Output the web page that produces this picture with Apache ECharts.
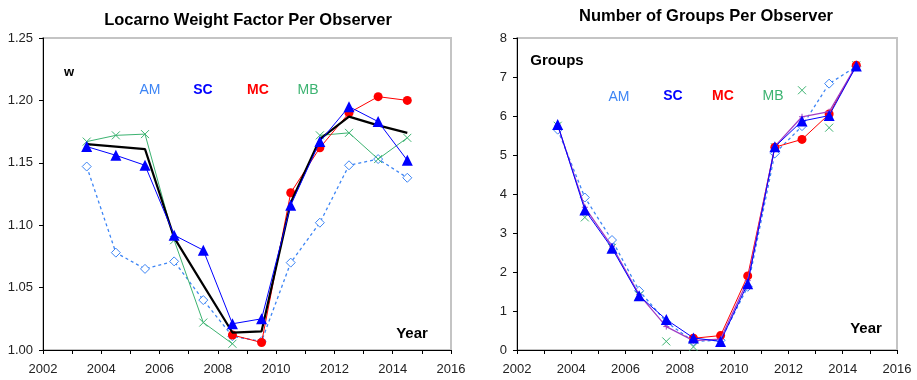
<!DOCTYPE html>
<html><head><meta charset="utf-8">
<script src="https://cdn.jsdelivr.net/npm/echarts@6/dist/echarts.min.js"></script>
<style>html,body{margin:0;padding:0;background:#fff}#c{width:917px;height:380px}</style>
</head><body><div id="c"></div>
<script>
// ---- data ----
const years = [2003.5, 2004.5, 2005.5, 2006.5, 2007.5, 2008.5, 2009.5, 2010.5, 2011.5, 2012.5, 2013.5, 2014.5];
// Left: Locarno weight factor
const wAM   = [1.147, 1.078, 1.065, 1.071, 1.040, 1.011, 1.007, 1.070, 1.102, 1.148, 1.153, 1.138];
const wSC   = [1.163, 1.156, 1.148, 1.092, 1.080, 1.021, 1.025, 1.116, 1.167, 1.195, 1.183, 1.152];
const wMC   = [null, null, null, null, null, 1.012, 1.006, 1.126, 1.162, 1.190, 1.203, 1.200];
const wMB   = [1.167, 1.172, 1.173, 1.088, 1.022, 1.005, null, null, 1.172, 1.174, 1.153, 1.170];
const wMean = [1.165, 1.163, 1.161, 1.090, 1.052, 1.014, 1.015, 1.118, 1.169, 1.187, 1.180, 1.174];
// Right: number of groups
const gAM   = [5.65, 3.91, 2.82, 1.52, 0.72, 0.22, 0.25, 1.62, 5.04, 5.74, 6.83, 7.27];
const gSC   = [5.78, 3.59, 2.61, 1.39, 0.78, 0.31, 0.22, 1.70, 5.21, 5.87, 6.01, 7.28];
const gMC   = [null, null, null, null, null, 0.30, 0.37, 1.90, 5.20, 5.40, 6.05, 7.30];
const gMB   = [5.75, 3.40, 2.62, 1.40, 0.22, 0.08, null, null, 5.20, 6.66, 5.70, 7.30];
const gMean = [5.76, 3.66, 2.66, 1.42, 0.60, 0.24, 0.28, 1.78, 5.22, 5.98, 6.11, 7.30];
// ticks
const xTicks = {min: 2002, max: 2016, interval: 2};
const wTicks = {min: 1.00, max: 1.25, interval: 0.05};
const gTicks = {min: 0, max: 8, interval: 1};
const titles = ['Locarno Weight Factor Per Observer', 'Number of Groups Per Observer'];

// ---- styling ----
const FONT = '"Liberation Sans", Arial, sans-serif';
const C = {AM: '#3d85f5', SC: '#0000ff', MC: '#ff0000', MB: '#3cb371', mean: '#000000', purple: '#a13dc6'};
const X_SYM = 'path://M0,0L10,10M10,0L0,10';
const PLUS_SYM = 'path://M5,0L5,10M0,5L10,5';
const pairs = arr => years.map((y, i) => [y, arr[i]]);

function xAxis(gi) {
  return {type: 'value', gridIndex: gi, min: xTicks.min, max: xTicks.max, interval: xTicks.interval,
    axisLine: {show: true, onZero: false, lineStyle: {color: '#000', width: 1}},
    axisTick: {show: true, length: 4, lineStyle: {color: '#000'}},
    minorTick: {show: true, splitNumber: 2, length: 4, lineStyle: {color: '#000'}},
    splitLine: {show: false},
    axisLabel: {color: '#222', fontSize: 13, fontFamily: FONT, margin: 13, formatter: v => String(v)}};
}
function yAxis(gi, t, dec) {
  return {type: 'value', gridIndex: gi, min: t.min, max: t.max, interval: t.interval,
    axisLine: {show: true, lineStyle: {color: '#000', width: 1}},
    axisTick: {show: true, length: 4, lineStyle: {color: '#000'}},
    splitLine: {show: false},
    axisLabel: {color: '#222', fontSize: 13, fontFamily: FONT, margin: 10, formatter: v => v.toFixed(dec)}};
}
function amSeries(gi, d) {
  return {type: 'line', xAxisIndex: gi, yAxisIndex: gi, data: pairs(d), symbol: 'diamond', symbolSize: 9,
    lineStyle: {color: C.AM, width: 1.3, type: [3, 3]},
    itemStyle: {color: '#ffffff', borderColor: C.AM, borderWidth: 1}, z: 2};
}
function mbSeries(gi, d, withLine) {
  return {type: 'line', xAxisIndex: gi, yAxisIndex: gi, data: pairs(d), symbol: X_SYM, symbolSize: 8,
    connectNulls: false,
    lineStyle: {color: C.MB, width: withLine ? 1 : 0, opacity: withLine ? 1 : 0},
    itemStyle: {color: C.MB, borderColor: C.MB, borderWidth: 1}, z: 3};
}
function mcSeries(gi, d) {
  return {type: 'line', xAxisIndex: gi, yAxisIndex: gi, data: pairs(d), symbol: 'circle', symbolSize: 9,
    lineStyle: {color: C.MC, width: 1}, itemStyle: {color: C.MC, borderWidth: 0}, z: 4};
}
function scSeries(gi, d) {
  return {type: 'line', xAxisIndex: gi, yAxisIndex: gi, data: pairs(d), symbol: 'triangle', symbolSize: 11,
    lineStyle: {color: C.SC, width: 1}, itemStyle: {color: C.SC, borderWidth: 0}, z: 6};
}

function txt(text, x, y, fill, font) {
  return {type: 'text', x: x, y: y, z: 100,
    style: {text: text, fill: fill, font: font, textAlign: 'center', textVerticalAlign: 'middle'}};
}

const chart = echarts.init(document.getElementById('c'), null, {renderer: 'canvas'});
chart.setOption({
  animation: false,
  backgroundColor: '#ffffff',
  grid: [
    {left: 43, top: 38, width: 408, height: 312, show: true, borderColor: '#c4c4c4', borderWidth: 2, backgroundColor: '#fff'},
    {left: 517, top: 38, width: 380, height: 312, show: true, borderColor: '#c4c4c4', borderWidth: 2, backgroundColor: '#fff'}
  ],
  xAxis: [xAxis(0), xAxis(1)],
  yAxis: [yAxis(0, wTicks, 2), yAxis(1, gTicks, 0)],
  series: [
    amSeries(0, wAM),
    mbSeries(0, wMB, true),
    mcSeries(0, wMC),
    {type: 'line', xAxisIndex: 0, yAxisIndex: 0, data: pairs(wMean), symbol: 'none',
      lineStyle: {color: C.mean, width: 2.2}, z: 5},
    scSeries(0, wSC),

    amSeries(1, gAM),
    mbSeries(1, gMB, false),
    mcSeries(1, gMC),
    {type: 'line', xAxisIndex: 1, yAxisIndex: 1, data: pairs(gMean), symbol: PLUS_SYM, symbolSize: 6,
      lineStyle: {color: C.purple, width: 1.3}, itemStyle: {color: C.purple, borderColor: C.purple, borderWidth: 1}, z: 5},
    scSeries(1, gSC)
  ],
  graphic: [
    txt(titles[0], 248, 20, '#000', 'bold 16.5px ' + FONT),
    txt(titles[1], 706, 16, '#000', 'bold 16.5px ' + FONT),
    txt('w', 69, 72, '#000', 'bold 13px ' + FONT),
    txt('AM', 150, 90, C.AM, '14px ' + FONT),
    txt('SC', 203, 90, C.SC, 'bold 14px ' + FONT),
    txt('MC', 258, 90, C.MC, 'bold 14px ' + FONT),
    txt('MB', 308, 90, C.MB, '14px ' + FONT),
    txt('Year', 412, 334, '#000', 'bold 15px ' + FONT),
    txt('Groups', 557, 61, '#000', 'bold 15px ' + FONT),
    txt('AM', 619, 97, C.AM, '14px ' + FONT),
    txt('SC', 673, 96, C.SC, 'bold 14px ' + FONT),
    txt('MC', 723, 96, C.MC, 'bold 14px ' + FONT),
    txt('MB', 773, 96, C.MB, '14px ' + FONT),
    txt('Year', 866, 329, '#000', 'bold 15px ' + FONT)
  ]
});
</script>
</body></html>
